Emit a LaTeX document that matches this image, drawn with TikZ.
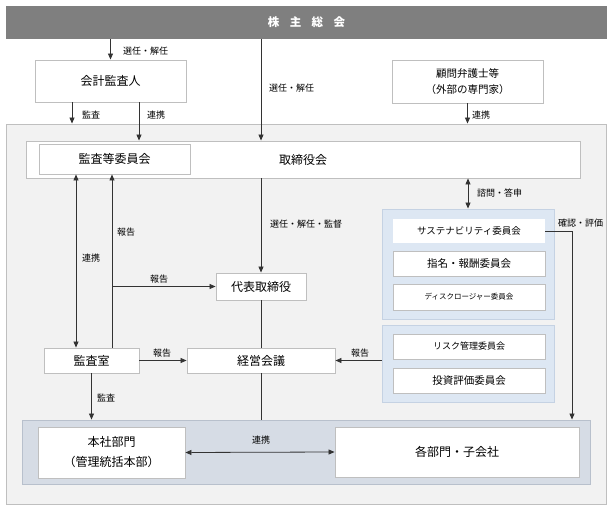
\documentclass[tikz,border=0pt]{standalone}
\usepackage{fontspec}
\usepackage{tikz}
\usetikzlibrary{arrows.meta}
\newfontfamily\jp{Noto Sans CJK JP}
\definecolor{barGray}{HTML}{7F7F7F}
\definecolor{areaGray}{HTML}{F2F2F2}
\definecolor{edgeGray}{HTML}{BFBFBF}
\definecolor{iinBlue}{HTML}{DDE7F3}
\definecolor{iinEdge}{HTML}{C5D2E3}
\definecolor{deptBlue}{HTML}{D6DCE5}
\definecolor{deptEdge}{HTML}{B8C0CC}
\definecolor{lineGray}{HTML}{333333}
\tikzset{
BOX/.style ={draw=edgeGray,fill=white,line width=0.9pt,inner sep=0pt,font=\jp\fontsize{12}{14}\selectfont},
BAR/.style ={draw=none,fill=barGray,text=white,inner sep=0pt,font=\jp\bfseries\fontsize{11.5}{14}\selectfont},
AREA/.style ={draw=edgeGray,fill=areaGray,line width=0.9pt,inner sep=0pt},
IINGROUP/.style ={draw=iinEdge,fill=iinBlue,line width=0.9pt,inner sep=0pt},
DEPTGROUP/.style ={draw=deptEdge,fill=deptBlue,line width=0.9pt,inner sep=0pt},
LINK/.style ={draw=lineGray,line width=0.8pt},
LBL/.style ={inner sep=0pt,font=\jp\fontsize{9}{11}\selectfont},
}
\begin{document}
\begin{tikzpicture}%Governance chart
[x=1pt,y=-1pt,>={Triangle[length=6pt,width=5pt]}]
	\useasboundingbox (0,0) rectangle (613,510);
	% regions
	\node[AREA,minimum width=600pt,minimum height=380pt] (outer) at (306,314) {};
	\node[BAR,minimum width=601pt,minimum height=33pt] (soukai) at (306.5,22.5) {株\hspace{0.9em}主\hspace{0.9em}総\hspace{0.9em}会};
	\node[IINGROUP,minimum width=172pt,minimum height=110pt] (iinA) at (468,264) {};
	\node[IINGROUP,minimum width=172pt,minimum height=77pt] (iinB) at (468,363.5) {};
	\node[DEPTGROUP,minimum width=568pt,minimum height=64pt] (bumon) at (306,452) {};
	% boxes
	\node[BOX,minimum width=151pt,minimum height=42pt] (kaikei) at (110.5,81) {会計監査人};
	\node[BOX,minimum width=151pt,minimum height=43pt,align=center,font=\jp\fontsize{10.5}{16}\selectfont] (komon) at (467.5,81.5) {顧問弁護士等\\（外部の専門家）};
	\node[BOX,minimum width=554pt,minimum height=37pt] (torishimari) at (303,159.5) {取締役会};
	\node[BOX,minimum width=151pt,minimum height=30pt] (kansaiin) at (114.5,159) {監査等委員会};
	\node[BOX,minimum width=90pt,minimum height=27pt] (daihyo) at (261,286.5) {代表取締役};
	\node[BOX,minimum width=148pt,minimum height=25pt] (keiei) at (261,360.5) {経営会議};
	\node[BOX,minimum width=95pt,minimum height=25pt] (kansashitsu) at (91.5,360.5) {監査室};
	\node[BOX,draw=none,minimum width=152pt,minimum height=24pt,font=\jp\fontsize{9.5}{11}\selectfont] (sustain) at (469,231) {サステナビリティ委員会};
	\node[BOX,minimum width=152pt,minimum height=25pt,font=\jp\fontsize{10.5}{12}\selectfont] (shimei) at (469,263.5) {指名・報酬委員会};
	\node[BOX,minimum width=152pt,minimum height=26pt,font=\jp\fontsize{7.5}{9}\selectfont] (disclo) at (469,297) {ディスクロージャー委員会};
	\node[BOX,minimum width=152pt,minimum height=25pt,font=\jp\fontsize{9}{11}\selectfont] (risk) at (469,346.5) {リスク管理委員会};
	\node[BOX,minimum width=152pt,minimum height=25pt,font=\jp\fontsize{10.5}{12}\selectfont] (toushi) at (469,380.5) {投資評価委員会};
	\node[BOX,minimum width=147pt,minimum height=51pt,align=center,font=\jp\fontsize{12}{20}\selectfont] (honsha) at (111.5,452.5) {本社部門\\（管理統括本部）};
	\node[BOX,minimum width=244pt,minimum height=50pt] (kakubu) at (457,452) {各部門・子会社};
	% connectors
	\coordinate (xKansa) at (72,0);
	\coordinate (xRenkei) at (139,0);
	\coordinate (xMutual) at (76,0);
	\coordinate (xHoukoku) at (112,0);
	\coordinate (xKakunin) at (572,0);
	\draw[LINK,->] (soukai.south -| kaikei) -- (kaikei.north);
	\draw[LINK,->] (soukai.south -| daihyo) -- (torishimari.north -| daihyo);
	\draw[LINK,->] (kaikei.south -| xKansa) -- (outer.north -| xKansa);
	\draw[LINK,->] (kaikei.south -| xRenkei) -- (torishimari.north -| xRenkei);
	\draw[LINK,->] (komon.south) -- (outer.north -| komon.south);
	\draw[LINK,<->] (kansaiin.south -| xMutual) -- (kansashitsu.north -| xMutual);
	\draw[LINK,->] (kansashitsu.north -| xHoukoku) -- (kansaiin.south -| xHoukoku);
	\draw[LINK,->] (xHoukoku |- daihyo.west) -- (daihyo.west);
	\draw[LINK,->] (torishimari.south -| daihyo) -- (daihyo.north);
	\draw[LINK] (daihyo.south) -- (keiei.north);
	\draw[LINK] (keiei.south) -- (bumon.north -| keiei);
	\draw[LINK,->] (kansashitsu.east) -- (keiei.west);
	\draw[LINK,->] (iinB.west |- keiei.east) -- (keiei.east);
	\draw[LINK,<->] (torishimari.south -| iinA) -- (iinA.north);
	\draw[LINK,->] (sustain.east) -- (xKakunin |- sustain.east) -- (xKakunin |- bumon.north);
	\draw[LINK,<->] (honsha.east) -- (kakubu.west);
	\draw[LINK,->] (kansashitsu.south) -- (bumon.north -| kansashitsu.south);
	% labels
	\node[LBL] (lbSennin) at (123,51)[right] {選任・解任};
	\node[LBL] (lbSenninB) at (269,88)[right] {選任・解任};
	\node[LBL] (lbKansaA) at (82,115)[right] {監査};
	\node[LBL] (lbRenkeiA) at (147,115)[right] {連携};
	\node[LBL] (lbRenkeiB) at (472,115)[right] {連携};
	\node[LBL] (lbRenkeiC) at (82,258)[right] {連携};
	\node[LBL] (lbHoukokuA) at (117,232)[right] {報告};
	\node[LBL] (lbHoukokuB) at (159,279) {報告};
	\node[LBL] (lbKantoku) at (270,224)[right] {選任・解任・監督};
	\node[LBL] (lbShimon) at (477,193)[right] {諮問・答申};
	\node[LBL] (lbKakunin) at (558,223)[right] {確認・評価};
	\node[LBL] (lbHoukokuC) at (162,353) {報告};
	\node[LBL] (lbHoukokuD) at (360,353) {報告};
	\node[LBL] (lbKansaB) at (97,398)[right] {監査};
	\node[LBL] (lbRenkeiD) at (261,440) {連携};
\end{tikzpicture}
\end{document}
